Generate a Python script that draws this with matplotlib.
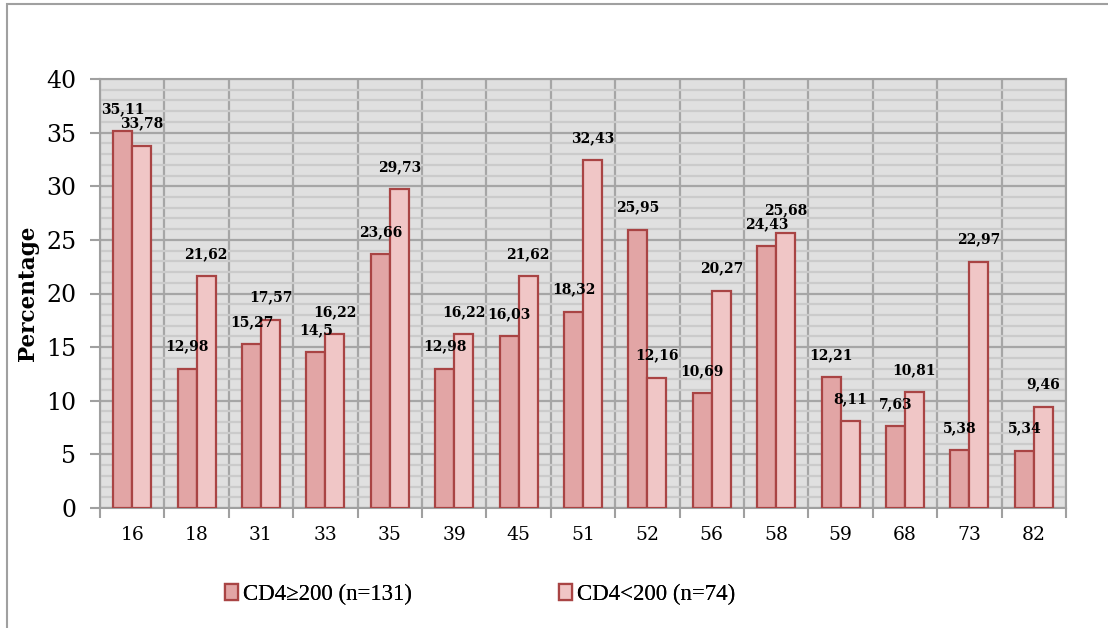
import matplotlib
matplotlib.use('Agg')
import matplotlib.pyplot as plt
import numpy as np
from matplotlib.patches import Rectangle

# HPV genotypes and prevalence (%) per CD4 group
genotypes = ['16', '18', '31', '33', '35', '39', '45', '51', '52', '56',
             '58', '59', '68', '73', '82']
cd4_high = [35.11, 12.98, 15.27, 14.5, 23.66, 12.98, 16.03, 18.32, 25.95,
            10.69, 24.43, 12.21, 7.63, 5.38, 5.34]
cd4_low = [33.78, 21.62, 17.57, 16.22, 29.73, 16.22, 21.62, 32.43, 12.16,
           20.27, 25.68, 8.11, 10.81, 22.97, 9.46]
series_names = ['CD4\u2265200 (n=131)', 'CD4<200 (n=74)']

SERIF = ['DejaVu Serif']
fill_colors = ['#e2a5a5', '#f0c6c6']
edge_color = '#a94444'

fig = plt.figure(figsize=(11.08, 6.28), dpi=100)
ax = fig.add_axes([100 / 1108, 1 - 508 / 628, 966 / 1108, 429 / 628])

# outer chart border (only left and top edges show in the crop)
fig.patches.append(Rectangle((7 / 1108, -0.2), 1.2, 1.2 - 4 / 628,
                             transform=fig.transFigure, fill=False,
                             edgecolor='#a0a0a0', linewidth=1.5))

x = np.arange(len(genotypes))
w = 0.295
handles = []
for i, (vals, col) in enumerate(zip([cd4_high, cd4_low], fill_colors)):
    pos = x - w / 2 + i * w
    bars = ax.bar(pos, vals, width=w, color=col, edgecolor=edge_color,
                  linewidth=1.6, label=series_names[i], zorder=3)
    handles.append(bars)
    for px, v in zip(pos, vals):
        label = ('%g' % v).replace('.', ',')
        ax.annotate(label, (px, v), xytext=(0, 16), textcoords='offset points',
                    ha='center', va='center', fontsize=10, fontweight='bold',
                    family=SERIF, zorder=4)

ax.set_facecolor('#e0e0e0')
ax.set_xlim(-0.5, len(genotypes) - 0.5)
ax.set_ylim(0, 40)

ax.set_yticks(np.arange(0, 41, 5))
ax.set_yticks(np.arange(0, 41, 1), minor=True)
ax.set_xticks(x)
ax.set_xticklabels(genotypes)
ax.set_xticks(np.arange(-0.5, len(genotypes), 1), minor=True)

ax.grid(which='minor', axis='y', color='#cbcbcb', linewidth=1.6, zorder=0)
ax.grid(which='major', axis='y', color='#a6a6a6', linewidth=1.6, zorder=1)
ax.grid(which='minor', axis='x', color='#a6a6a6', linewidth=1.6, zorder=1)

ax.tick_params(axis='x', which='major', length=0, labelsize=13.5, pad=13)
ax.tick_params(axis='x', which='minor', length=7, color='#a0a0a0', width=1.5)
ax.tick_params(axis='y', which='major', length=7, color='#a0a0a0', width=1.5,
               labelsize=17, pad=10)
ax.tick_params(axis='y', which='minor', length=0)
for lab in ax.get_xticklabels() + ax.get_yticklabels():
    lab.set_family(SERIF)

for s in ax.spines.values():
    s.set_color('#a0a0a0')
    s.set_linewidth(1.5)

ax.set_ylabel('Percentage', family=SERIF, fontweight='bold', fontsize=15.5,
              labelpad=5)

# two separate legend entries, placed like the original
for h, name, lx in zip(handles, series_names, [225 / 1108, 559 / 1108]):
    leg = fig.legend([h], [name], loc='center left',
                     bbox_to_anchor=(lx, 1 - 594 / 628), frameon=False,
                     prop={'family': ['Liberation Serif'], 'size': 16.5},
                     borderpad=0, borderaxespad=0, handlelength=0.55,
                     handleheight=0.7, handletextpad=0.22)
    fig.add_artist(leg)

fig.savefig('out.png', dpi=100)
